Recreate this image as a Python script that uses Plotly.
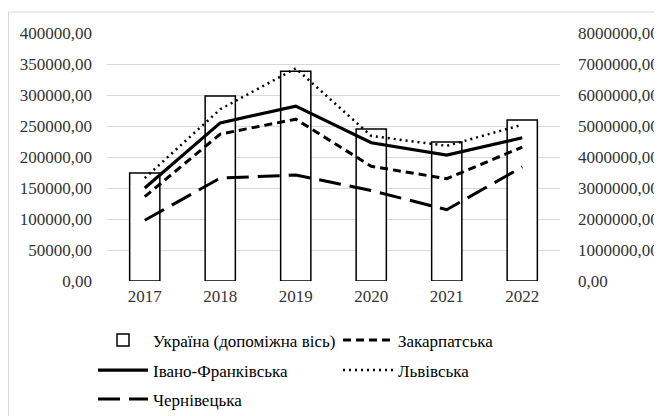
import plotly.graph_objects as go

years = ["2017", "2018", "2019", "2020", "2021", "2022"]
ukraine = [3480000, 5970000, 6770000, 4900000, 4480000, 5190000]
zakarpatska = [136000, 237000, 261000, 185000, 165000, 216000]
ivano_frankivska = [150000, 255000, 282000, 223000, 203000, 231000]
lvivska = [166000, 277000, 343000, 234000, 218000, 252000]
chernivetska = [98000, 166000, 171000, 146000, 115000, 184000]

left_ticks = [0, 50000, 100000, 150000, 200000, 250000, 300000, 350000, 400000]
right_ticks = [0, 1000000, 2000000, 3000000, 4000000, 5000000, 6000000, 7000000, 8000000]

FONT = "Liberation Serif"
TXT = "#333333"
FS = 17

fig = go.Figure()
fig.add_trace(go.Bar(
    x=years, y=ukraine, name="Україна (допоміжна вісь)", yaxis="y",
    marker=dict(color="white", line=dict(color="black", width=1.5)),
    width=0.4, legend="legend"))
fig.add_trace(go.Scatter(
    x=years, y=zakarpatska, name="Закарпатська", yaxis="y2", mode="lines",
    line=dict(color="black", width=3, dash="8px,5px"), legend="legend"))
fig.add_trace(go.Scatter(
    x=years, y=ivano_frankivska, name="Івано-Франківська", yaxis="y2", mode="lines",
    line=dict(color="black", width=3.2), legend="legend2"))
fig.add_trace(go.Scatter(
    x=years, y=lvivska, name="Львівська", yaxis="y2", mode="lines",
    line=dict(color="black", width=2.5, dash="2px,4px"), legend="legend2"))
fig.add_trace(go.Scatter(
    x=years, y=chernivetska, name="Чернівецька", yaxis="y2", mode="lines",
    line=dict(color="black", width=3, dash="22px,9px"), legend="legend3"))

leg_common = dict(orientation="h", xanchor="left", yanchor="middle",
                  font=dict(family=FONT, size=FS, color="black"),
                  bgcolor="rgba(0,0,0,0)", entrywidth=180, itemwidth=50,
                  traceorder="normal")

fig.update_layout(
    width=662, height=416,
    margin=dict(l=99, r=110, t=25, b=143, autoexpand=False),
    paper_bgcolor="white", plot_bgcolor="white",
    separators=",.",
    font=dict(family=FONT, size=FS, color=TXT),
    showlegend=True,
    bargap=0.6,
    xaxis=dict(type="category", showgrid=False, showline=False, ticks="",
               ticklabelstandoff=3,
               tickfont=dict(family=FONT, size=FS, color=TXT)),
    yaxis=dict(side="right", range=[0, 8000000], tickvals=right_ticks,
               tickformat=".2f", showgrid=True, gridcolor="#d9d9d9", gridwidth=1,
               zeroline=False, showline=False, ticks="", ticklabelstandoff=17,
               tickfont=dict(family=FONT, size=FS, color=TXT)),
    yaxis2=dict(side="left", overlaying="y", range=[0, 400000], tickvals=left_ticks,
                tickformat=".2f", showgrid=False, zeroline=False, showline=False,
                ticks="", ticklabelstandoff=14,
                tickfont=dict(family=FONT, size=FS, color=TXT)),
    legend=dict(x=-0.0309, y=-0.240, **leg_common),
    legend2=dict(x=-0.0309, y=-0.361, **leg_common),
    legend3=dict(x=-0.0309, y=-0.478, **leg_common),
    shapes=[dict(type="rect", xref="paper", yref="paper",
                 x0=-0.2174, x1=1.3, y0=-0.7, y1=1.0847,
                 line=dict(color="#d9d9d9", width=1), layer="below")],
)

fig.write_html("out.html")
